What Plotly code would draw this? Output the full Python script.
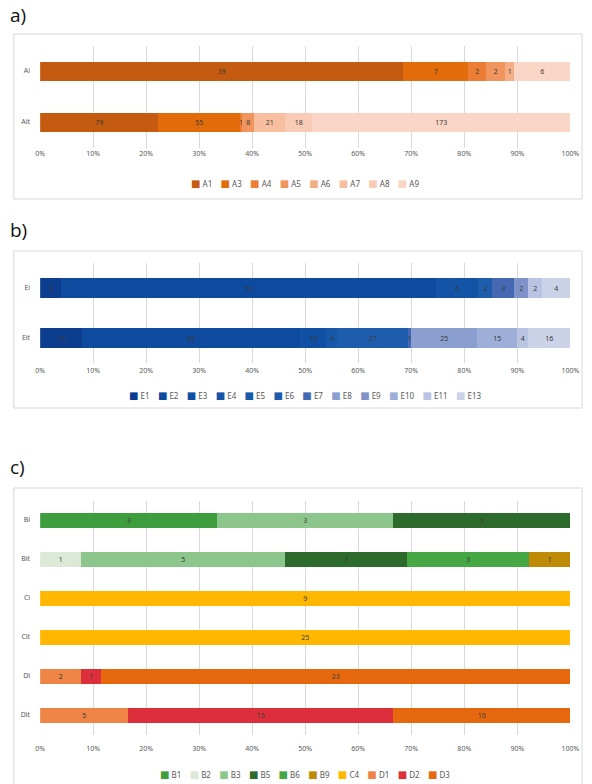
import plotly.graph_objects as go

W, H = 592, 784

# ---- a) ----
a_rows = ["Ai", "Ait"]
a_series = ["A1", "A3", "A4", "A5", "A6", "A7", "A8", "A9"]
a_values = [
    [39, 79],
    [7, 55],
    [2, 1],
    [2, 8],
    [1, None],
    [None, 21],
    [None, 18],
    [6, 173],
]
a_colors = ["#C55A11", "#E26B0A", "#EB7D34", "#F0955E", "#F4AE85",
            "#F7BEA0", "#F9CBB6", "#FAD6C6"]

# ---- b) ----
b_rows = ["Ei", "Eit"]
b_series = ["E1", "E2", "E3", "E4", "E5", "E6", "E7", "E8", "E9", "E10", "E11", "E13"]
b_values = [
    [3, 16],
    [53, 82],
    [None, 10],
    [6, None],
    [None, 4],
    [2, 27],
    [3, 1],
    [None, 25],
    [2, None],
    [None, 15],
    [2, 4],
    [4, 16],
]
b_colors = ["#0C3D8E", "#0E4A9E", "#1050A4", "#1354A7", "#1858A9", "#1E5DAC",
            "#4468B2", "#8A9ECF", "#7F93C9", "#9DAED8", "#B9C4E2", "#CBD3E8"]

# ---- c) ----
c_rows = ["Bi", "Bit", "Ci", "Cit", "Di", "Dit"]
c_series = ["B1", "B2", "B3", "B5", "B6", "B9", "C4", "D1", "D2", "D3"]
c_values = [
    [3, None, None, None, None, None],
    [None, 1, None, None, None, None],
    [3, 5, None, None, None, None],
    [3, 3, None, None, None, None],
    [None, 3, None, None, None, None],
    [None, 1, None, None, None, None],
    [None, None, 9, 25, None, None],
    [None, None, None, None, 2, 5],
    [None, None, None, None, 1, 15],
    [None, None, None, None, 23, 10],
]
c_colors = ["#3E9E3E", "#DCE9D8", "#8DC68D", "#2C6B2C", "#45A845", "#BF8A05",
            "#FFB700", "#EE8445", "#DD2E3C", "#E5680E"]

FONT = "Noto Sans"
GRID = "#D9D9D9"
TXT = "#595959"

x_dom = [36 / W, 579 / W]


def ydom(top_px, bottom_px):
    return [1 - bottom_px / H, 1 - top_px / H]


fig = go.Figure()

panels = [
    ("x", "y", a_rows, a_series, a_values, a_colors, 0.38),
    ("x2", "y2", b_rows, b_series, b_values, b_colors, 0.40),
    ("x3", "y3", c_rows, c_series, c_values, c_colors, 0.38),
]

for xa, ya, rows, names, values, colors, bw in panels:
    for name, vals, col in zip(names, values, colors):
        fig.add_trace(go.Bar(
            y=rows, x=vals, name=name, orientation="h",
            xaxis=xa, yaxis=ya, width=bw,
            marker=dict(color=col, line=dict(width=0)),
            text=[("" if v is None else str(v)) for v in vals],
            texttemplate="%{text}", textposition="inside",
            insidetextanchor="middle", textangle=0,
            insidetextfont=dict(family=FONT, size=7, color="#3A3A3A"),
            showlegend=False, hoverinfo="skip",
        ))


def xaxis(anchor, standoff):
    return dict(domain=x_dom, anchor=anchor, range=[0, 100], dtick=10,
                ticksuffix="%", showgrid=True, gridcolor=GRID, gridwidth=1,
                zeroline=False, showline=False, ticks="",
                ticklabelstandoff=standoff,
                tickfont=dict(family=FONT, size=7, color=TXT), fixedrange=True)


def yaxis(anchor, dom, rows):
    n = len(rows)
    return dict(domain=dom, anchor=anchor, type="category",
                categoryorder="array", categoryarray=rows,
                range=[n - 0.5, -0.5], showgrid=False, zeroline=False,
                showline=False, ticks="", ticklabelstandoff=9,
                tickfont=dict(family=FONT, size=7, color=TXT), fixedrange=True)


fig.update_layout(
    width=W, height=H, margin=dict(l=0, r=0, t=0, b=0),
    paper_bgcolor="white", plot_bgcolor="white",
    barmode="stack", barnorm="percent", bargap=0,
    uniformtext=dict(minsize=7, mode="show"),
    xaxis=xaxis("y", 0),
    yaxis=yaxis("x", ydom(45.5, 147.5), a_rows),
    xaxis2=xaxis("y2", 2),
    yaxis2=yaxis("x2", ydom(263, 363), b_rows),
    xaxis3=xaxis("y3", 8),
    yaxis3=yaxis("x3", ydom(500.5, 734.5), c_rows),
)

# chart frames
frames = [(34, 199), (251, 408), (488, 790)]
for top, bot in frames:
    fig.add_shape(type="rect", xref="paper", yref="paper",
                  x0=9 / W, x1=591 / W, y0=1 - bot / H, y1=1 - top / H,
                  line=dict(color="#D9D9D9", width=1), fillcolor="rgba(0,0,0,0)",
                  layer="below")

# panel letters
for letter, ypx in [("a)", 15), ("b)", 230), ("c)", 467)]:
    fig.add_annotation(text=letter, xref="paper", yref="paper",
                       x=3 / W, y=1 - ypx / H, xanchor="left", yanchor="middle",
                       showarrow=False,
                       font=dict(family="Open Sans", size=19, color="#111111"))


# legend rows built from series names and colours
def legend_text(names, colors):
    parts = [f'<span style="color:{c};font-family:DejaVu Sans;font-size:10px">■</span> {n}'
             for n, c in zip(names, colors)]
    return "&nbsp;&nbsp;&nbsp;&nbsp;".join(parts)


xc = (x_dom[0] + x_dom[1]) / 2
for names, colors, ypx in [(a_series, a_colors, 183), (b_series, b_colors, 395),
                           (c_series, c_colors, 774)]:
    fig.add_annotation(text=legend_text(names, colors), xref="paper", yref="paper",
                       x=xc, y=1 - ypx / H, xanchor="center", yanchor="middle",
                       showarrow=False,
                       font=dict(family=FONT, size=8, color=TXT))

fig.write_html("out.html")
